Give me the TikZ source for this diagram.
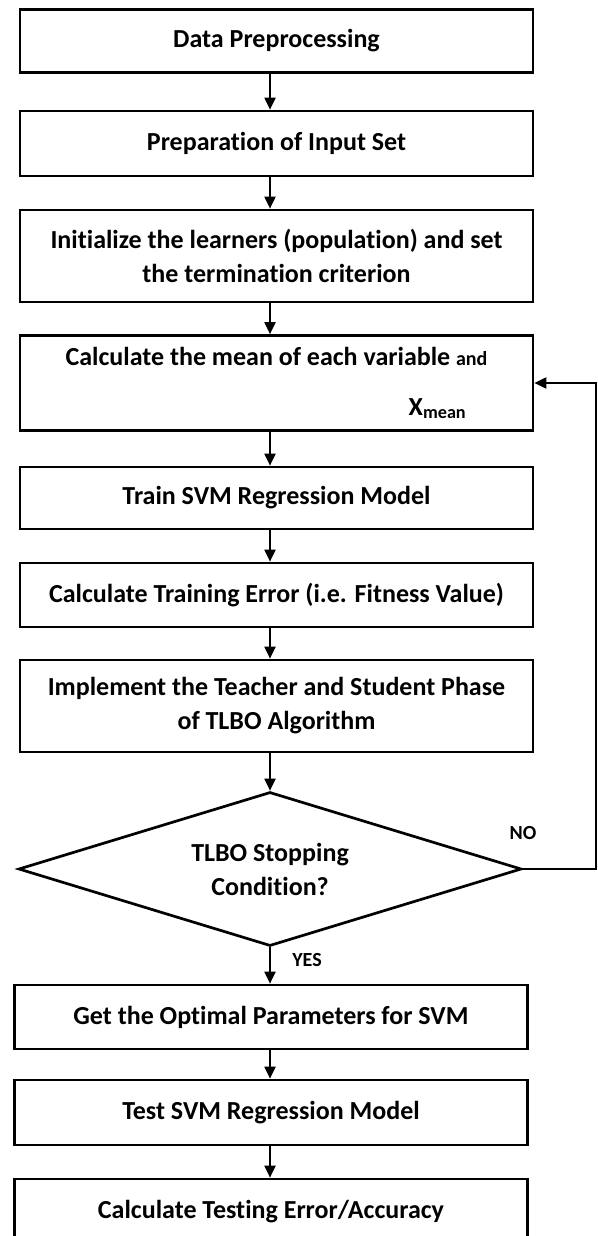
\documentclass[tikz,border=0pt]{standalone}
\usepackage{fontspec}
\setmainfont{Carlito}[Ligatures=NoCommon]
\usetikzlibrary{shapes.geometric,arrows.meta}

\begin{document}
\begin{tikzpicture}
[x=1pt,y=-1pt,
  boxDecorate/.style={shape=rectangle,draw,line width=2.7pt,minimum width=513pt,
    inner sep=0pt,align=center,font=\fontsize{26}{34}\selectfont\bfseries},
  decisionDecorate/.style={shape=diamond,draw,line width=2.7pt,aspect=3.3,
    minimum width=503pt,minimum height=154pt,inner sep=0pt,align=center,
    font=\fontsize{26}{34}\selectfont\bfseries},
  lineDecorate/.style={line width=2pt,-{Triangle[length=12pt,width=11pt]}},
  labelDecorate/.style={inner sep=0pt,font=\fontsize{20}{24}\selectfont\bfseries}]
\useasboundingbox (0,0) rectangle (597,1236);
\clip (0,0) rectangle (597,1236);
%% nodes or boxes
\foreach \nodename/\x/\y/\h/\boxtext in {
  dataPrep/276.5/41/63/{Data Preprocessing},
  inputSet/276.5/143.5/65/{Preparation of Input Set},
  initLearners/276.5/256/92/{Initialize the learners (population) and set\\the termination criterion},
  meanCalc/276.5/383/95/{Calculate the mean of each variable {\fontsize{20}{24}\selectfont and}\\[16pt]\hspace*{322pt}X\textsubscript{mean}},
  trainSVM/276.5/498/62/{Train SVM Regression Model},
  trainError/276.5/595/64/{Calculate Training Error (i.e. Fitness Value)},
  tlboPhase/276.5/706/92/{Implement the Teacher and Student Phase\\of TLBO Algorithm},
  optParams/271/1017/64/{Get the Optimal Parameters for SVM},
  testSVM/271/1112.5/65/{Test SVM Regression Model},
  testError/271/1212/66/{Calculate Testing Error/Accuracy}}
{
  \node (\nodename) at (\x,\y) [boxDecorate,minimum height=\h pt] {\boxtext};
}
\node (stopCond) at (270,869) [decisionDecorate] {TLBO Stopping\\Condition?};
\node (noLabel) at (523,833) [labelDecorate] {NO};
\node (yesLabel) at (307,960) [labelDecorate] {YES};
%% edges or arrows
\coordinate (axis) at (270,0);
\coordinate (loopRight) at (595.5,600);
\path
\foreach \startnode/\endnode in {
  dataPrep/inputSet, inputSet/initLearners, initLearners/meanCalc,
  meanCalc/trainSVM, trainSVM/trainError, trainError/tlboPhase,
  tlboPhase/stopCond, stopCond/optParams, optParams/testSVM, testSVM/testError}
{
  (\startnode.south -| axis) edge[lineDecorate] (\endnode.north -| axis)
};
\draw[lineDecorate] (stopCond.east) -| (loopRight) |- (meanCalc.east);
\end{tikzpicture}
\end{document}
